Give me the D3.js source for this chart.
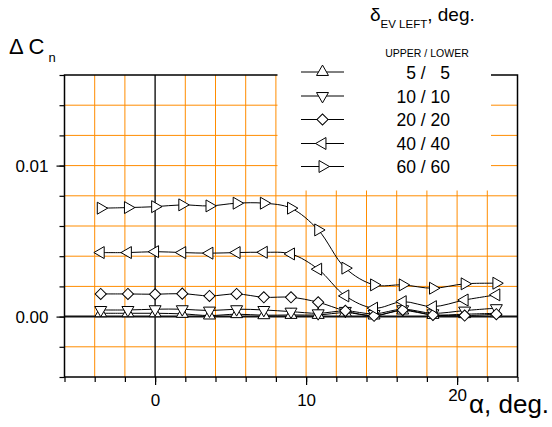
<!DOCTYPE html>
<html>
<head>
<meta charset="utf-8">
<title>Delta Cn vs alpha</title>
<style>
  body { margin: 0; background: #fff; }
  svg text { font-family: "Liberation Sans", Arial, sans-serif; fill: #000; }
</style>
<script src="https://d3js.org/d3.v7.min.js"></script>
</head>
<body>
<svg id="chart" width="552" height="427"></svg>
<script>
// angle of attack, deg
var alpha = [-3.6, -1.8, 0, 1.8, 3.6, 5.4, 7.2, 9.0, 10.8, 12.6, 14.5, 16.4, 18.4, 20.5, 22.6];

// delta Cn (x 0.001)
var s5  = [0.22, 0.22, 0.22, 0.18, 0.07, 0.16, 0.09, 0.11, 0.11, 0.26, 0.07, 0.40, 0.11, 0.16, 0.22];
var s10 = [0.44, 0.44, 0.49, 0.49, 0.40, 0.49, 0.44, 0.33, 0.22, 0.38, 0.18, 0.49, 0.22, 0.40, 0.56];
var s20 = [1.50, 1.50, 1.48, 1.52, 1.37, 1.50, 1.28, 1.28, 0.95, 0.38, 0.05, 0.44, 0.11, 0.07, 0.16];
var s40 = [4.24, 4.24, 4.30, 4.24, 4.20, 4.24, 4.26, 4.15, 3.14, 1.37, 0.56, 0.99, 0.66, 1.10, 1.44];
var s60 = [7.18, 7.22, 7.28, 7.40, 7.33, 7.51, 7.51, 7.18, 5.74, 3.21, 2.10, 2.10, 1.88, 2.17, 2.21];

var labels = ["5 /   5", "10 / 10", "20 / 20", "40 / 40", "60 / 60"];
var markers = ["up", "down", "diamond", "left", "right"];
var seriesVals = [s5, s10, s20, s40, s60];

var xTicks = d3.range(-6, 24.01, 2);
var yTicks = d3.range(-0.004, 0.01601, 0.002);

var svg = d3.select("#chart");
var L = 64.5, R = 517.5, T = 75, B = 377;

var x = d3.scaleLinear().domain([-6, 24]).range([L, R]);
var y = d3.scaleLinear().domain([-0.004, 0.016]).range([B, T]);

// orange grid
var grid = svg.append("g").attr("stroke", "#ff8c00").attr("stroke-width", 1);
grid.selectAll(".gx").data(xTicks.filter(d => d > -6 && d < 24 && Math.abs(d) > 1e-9))
  .enter().append("line")
  .attr("x1", d => x(d)).attr("x2", d => x(d)).attr("y1", T).attr("y2", B);
grid.selectAll(".gy").data(yTicks.filter(d => d > -0.0039 && d < 0.0159 && Math.abs(d) > 1e-9))
  .enter().append("line")
  .attr("x1", L).attr("x2", R).attr("y1", d => y(d)).attr("y2", d => y(d));

// zero lines
svg.append("line").attr("x1", x(0)).attr("x2", x(0)).attr("y1", T).attr("y2", B)
  .attr("stroke", "#000").attr("stroke-width", 1.3);
svg.append("line").attr("x1", L).attr("x2", R).attr("y1", y(0)).attr("y2", y(0))
  .attr("stroke", "#111").attr("stroke-width", 2);

// frame
svg.append("rect").attr("x", L).attr("y", T).attr("width", R - L).attr("height", B - T)
  .attr("fill", "none").attr("stroke", "#000").attr("stroke-width", 1.5);

// axes
var yMinor = svg.append("g").attr("transform", "translate(" + L + ",0)")
  .call(d3.axisLeft(y).tickValues(yTicks).tickSize(5).tickFormat(""));
var yMajor = svg.append("g").attr("transform", "translate(" + L + ",0)")
  .call(d3.axisLeft(y).tickValues([0, 0.01]).tickSize(8).tickPadding(8).tickFormat(d3.format(".2f")));
var xMinor = svg.append("g").attr("transform", "translate(0," + B + ")")
  .call(d3.axisBottom(x).tickValues(xTicks).tickSize(5).tickFormat(""));
var xMajor = svg.append("g").attr("transform", "translate(0," + B + ")")
  .call(d3.axisBottom(x).tickValues([0, 10, 20]).tickSize(8).tickPadding(9).tickFormat(d3.format("d")));
[yMinor, yMajor, xMinor, xMajor].forEach(function (g) {
  g.select(".domain").remove();
  g.selectAll("line").attr("stroke", "#000").attr("stroke-width", 1.2);
  g.selectAll("text").attr("font-size", 17).attr("font-family", "Liberation Sans, Arial, sans-serif");
});
// the "20" label sits a little higher, next to the axis title
xMajor.selectAll(".tick").filter(d => d === 20).select("text").attr("dy", "0.42em");

// series
var line = d3.line().x(d => x(d[0])).y(d => y(d[1])).curve(d3.curveCatmullRom);
var sym = {
  up:      { type: d3.symbolTriangle, rot: 0 },
  down:    { type: d3.symbolTriangle, rot: 180 },
  left:    { type: d3.symbolTriangle, rot: -90 },
  right:   { type: d3.symbolTriangle, rot: 90 },
  diamond: { type: d3.symbolSquare, rot: 45 }
};
function drawMarker(g, kind, cx, cy) {
  var s = sym[kind];
  g.append("path")
    .attr("d", d3.symbol().type(s.type).size(62)())
    .attr("transform", "translate(" + cx + "," + cy + ") rotate(" + s.rot + ")")
    .attr("fill", "#fff").attr("stroke", "#000").attr("stroke-width", 1);
}

seriesVals.forEach(function (vals, i) {
  var pts = alpha.map((a, j) => [a, vals[j] / 1000]);
  var g = svg.append("g");
  g.append("path").attr("d", line(pts)).attr("fill", "none")
    .attr("stroke", "#000").attr("stroke-width", 1);
  pts.forEach(p => drawMarker(g, markers[i], x(p[0]), y(p[1])));
});

// legend (white box over the grid)
svg.append("rect").attr("x", 277.5).attr("y", 0).attr("width", 213.5).attr("height", 190.5).attr("fill", "#fff");
var lg = svg.append("g");
var rowY = [72, 96, 119.5, 143.5, 166.5];
labels.forEach(function (lab, i) {
  lg.append("line").attr("x1", 301).attr("x2", 344).attr("y1", rowY[i]).attr("y2", rowY[i])
    .attr("stroke", "#000").attr("stroke-width", 1);
  drawMarker(lg, markers[i], 322.5, rowY[i]);
  lg.append("text").attr("x", 450).attr("y", rowY[i] + 6.5).attr("text-anchor", "end")
    .attr("font-size", 17.5).style("white-space", "pre").text(lab);
});
lg.append("text").attr("x", 427).attr("y", 57).attr("text-anchor", "middle")
  .attr("font-size", 10.5).text("UPPER / LOWER");
var dt = lg.append("text").attr("x", 370).attr("y", 20.5).attr("font-size", 19);
dt.append("tspan").text("δ");
dt.append("tspan").attr("font-size", 11.5).attr("dy", 7).text("EV LEFT");
dt.append("tspan").attr("dy", -7).text(", deg.");

// axis titles
var yt = svg.append("text").attr("x", 9).attr("y", 53.5).attr("font-size", 22);
yt.append("tspan").text("Δ C");
yt.append("tspan").attr("font-size", 13).attr("dx", 4).attr("dy", 8).text("n");

svg.append("text").attr("x", 469).attr("y", 413).attr("font-size", 26).text("α, deg.");
</script>
</body>
</html>
